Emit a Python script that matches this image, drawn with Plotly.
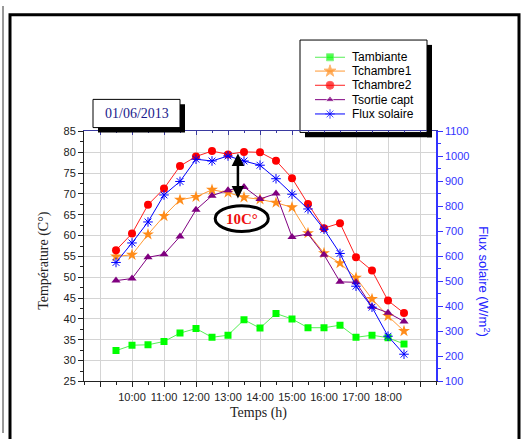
import plotly.graph_objects as go

# Hours of measurement (decimal hours, 9:30 .. 18:30)
hours = [9.5, 10.0, 10.5, 11.0, 11.5, 12.0, 12.5, 13.0, 13.5, 14.0,
         14.5, 15.0, 15.5, 16.0, 16.5, 17.0, 17.5, 18.0, 18.5]

t_ambiante = [32.4, 33.7, 33.8, 34.6, 36.6, 37.7, 35.6, 36.1, 39.8, 37.8,
              41.3, 40.0, 37.9, 37.9, 38.5, 35.6, 36.1, 35.5, 34.0]
t_chambre1 = [55.0, 55.4, 60.3, 64.7, 68.6, 69.3, 71.0, 70.3, 69.2, 68.7,
              67.9, 66.8, 60.6, 55.8, 53.4, 49.9, 44.8, 40.7, 37.1]
t_chambre2 = [56.5, 60.5, 67.4, 71.3, 76.7, 79.0, 80.3, 79.5, 80.1, 80.0,
              78.0, 73.8, 67.6, 61.8, 63.0, 54.8, 51.6, 44.4, 41.4]
t_sortie = [49.2, 49.7, 54.8, 55.5, 59.8, 66.2, 69.6, 70.9, 71.7, 68.8,
            70.1, 59.7, 60.4, 55.4, 48.9, 48.8, 42.9, 41.5, 39.4]
flux = [576, 654, 738, 846, 900, 989, 982, 1002, 982, 965,
        911, 849, 790, 709, 612, 481, 397, 281, 209]

tick_hours = [9, 10, 11, 12, 13, 14, 15, 16, 17, 18, 19]
tick_labels = ["", "10:00", "11:00", "12:00", "13:00", "14:00",
               "15:00", "16:00", "17:00", "18:00", ""]

W, H = 523, 439
L, R, T, B = 84, 436, 129, 386  # plot area in pixels


def px(x):
    return x / W


def py(y):
    return (H - y) / H


SANS = "Liberation Sans, Arial, sans-serif"
SERIF = "Liberation Serif, Times New Roman, serif"

# series styles: name, values, axis, line colour, marker
series = [
    ("Tambiante", t_ambiante, "y", "#55ee55",
     dict(symbol="square", size=7, color="#00ff00")),
    ("Tchambre1", t_chambre1, "y", "#ff9933",
     dict(symbol="star", size=9, color="#ff8c1a")),
    ("Tchambre2", t_chambre2, "y", "#ff2020",
     dict(symbol="circle", size=8, color="#ff0000")),
    ("Tsortie capt", t_sortie, "y", "#800080",
     dict(symbol="triangle-up", size=8, color="#800080")),
    ("Flux solaire", flux, "y2", "#0000ff",
     dict(symbol="asterisk-open", size=8,
          line=dict(color="#0000ff", width=1))),
]

fig = go.Figure()

for name, vals, yax, lcol, mk in series:
    fig.add_trace(go.Scatter(
        x=hours, y=vals, name=name, mode="lines+markers", yaxis=yax,
        line=dict(color=lcol, width=1), marker=mk, showlegend=False))

# invisible trace that carries the top axis
fig.add_trace(go.Scatter(x=[hours[0]], y=[t_ambiante[0]], xaxis="x2",
                         mode="markers", marker=dict(opacity=0),
                         showlegend=False, hoverinfo="skip"))

# key samples, drawn in a small pixel-scaled subplot inside the key box
key_rows = [52.7, 66.9, 81.5, 96.3, 111.0]
key_x = [315, 330, 345]
annotations = []
for (name, vals, yax, lcol, mk), row in zip(series, key_rows):
    mk_key = dict(mk)
    mk_key["size"] = [0, mk["size"], 0]
    fig.add_trace(go.Scatter(
        x=key_x, y=[row] * 3, xaxis="x3", yaxis="y3", mode="lines+markers",
        line=dict(color=lcol, width=1), marker=mk_key,
        showlegend=False, hoverinfo="skip"))
    annotations.append(dict(
        text=name, xref="x3", yref="y3", x=350, y=row, showarrow=False,
        xanchor="left", yanchor="middle",
        font=dict(family=SANS, size=12, color="black")))

shapes = []
# outer frame
shapes.append(dict(type="rect", xref="paper", yref="paper",
                   x0=px(10), x1=px(519), y0=py(460), y1=py(9),
                   line=dict(color="black", width=3), layer="above"))
shapes.append(dict(type="line", xref="paper", yref="paper",
                   x0=px(3), x1=px(3), y0=py(0), y1=py(439),
                   line=dict(color="#333333", width=1), layer="above"))
# date box with drop shadow
shapes.append(dict(type="rect", xref="paper", yref="paper",
                   x0=px(98), x1=px(185), y0=py(130), y1=py(101),
                   fillcolor="black", line=dict(width=0), layer="above"))
shapes.append(dict(type="rect", xref="paper", yref="paper",
                   x0=px(93), x1=px(180), y0=py(125), y1=py(96),
                   fillcolor="white", line=dict(color="black", width=1),
                   layer="above"))
# key box (under the key samples) and its drop shadow strips
shapes.append(dict(type="rect", xref="paper", yref="paper",
                   x0=px(300), x1=px(427), y0=py(130), y1=py(35),
                   fillcolor="white", line=dict(color="black", width=1),
                   layer="below"))
shapes.append(dict(type="rect", xref="paper", yref="paper",
                   x0=px(427), x1=px(432), y0=py(135), y1=py(40),
                   fillcolor="black", line=dict(width=0), layer="above"))
shapes.append(dict(type="rect", xref="paper", yref="paper",
                   x0=px(305), x1=px(432), y0=py(135), y1=py(130),
                   fillcolor="black", line=dict(width=0), layer="above"))
# ellipse around the temperature gap label
shapes.append(dict(type="circle", xref="x", yref="y",
                   x0=12.6, x1=14.26, y0=61.0, y1=67.2,
                   fillcolor="white", line=dict(color="black", width=3),
                   layer="above"))

annotations += [
    dict(text="01/06/2013", xref="paper", yref="paper", x=px(136.5), y=py(110.5),
         showarrow=False, font=dict(family=SERIF, size=14, color="#1a1a8c"),
         xanchor="center", yanchor="middle"),
    dict(text="<b>10C°</b>", xref="x", yref="y", x=13.43, y=64.1,
         showarrow=False, font=dict(family=SERIF, size=15, color="#ee1111"),
         xanchor="center", yanchor="middle"),
    dict(text="", xref="x", yref="y", x=13.31, y=68.9,
         axref="x", ayref="y", ax=13.31, ay=80.1,
         showarrow=True, arrowhead=2, startarrowhead=2, arrowside="end+start",
         arrowsize=1, startarrowsize=1, arrowwidth=2.5, arrowcolor="black"),
    dict(text="Température (C°)", xref="paper", yref="paper",
         x=px(44), y=py(262), textangle=-90, showarrow=False,
         font=dict(family=SERIF, size=14, color="#222222"),
         xanchor="center", yanchor="middle"),
    dict(text="Flux solaire (W/m<sup>2</sup>)", xref="paper", yref="paper",
         x=px(484), y=py(283), textangle=90, showarrow=False,
         font=dict(family=SANS, size=13, color="#2222ff"),
         xanchor="center", yanchor="middle"),
    dict(text="Temps (h)", xref="paper", yref="paper",
         x=px(258), y=py(418), showarrow=False,
         font=dict(family=SERIF, size=14, color="#222222"),
         xanchor="center", yanchor="middle"),
]

x_dom = [px(L), px(R)]
y_dom = [py(B), py(T)]

fig.update_layout(
    width=W, height=H,
    margin=dict(l=0, r=0, t=0, b=0, pad=0),
    paper_bgcolor="white", plot_bgcolor="rgba(0,0,0,0)",
    font=dict(family=SANS, size=11, color="#222222"),
    showlegend=False,
    xaxis=dict(domain=x_dom, range=[8.5, 19.5], tickvals=tick_hours,
               ticktext=tick_labels,
               showgrid=True, gridcolor="#d4d4d4", gridwidth=1,
               showline=True, linecolor="#222222", linewidth=1,
               ticks="outside", ticklen=5, tickcolor="#222222",
               minor=dict(dtick=0.5, tick0=8.5, ticks="outside", ticklen=3,
                          tickcolor="#222222", showgrid=False),
               zeroline=False, tickfont=dict(size=11)),
    xaxis2=dict(domain=x_dom, range=[8.5, 19.5], overlaying="x", side="top",
                tickvals=tick_hours, ticktext=[""] * len(tick_hours),
                showgrid=False, showline=True, linecolor="#3a3aa0",
                linewidth=1, ticks="inside", ticklen=4, tickcolor="#3a3aa0",
                minor=dict(dtick=0.5, tick0=8.5, ticks="inside", ticklen=2,
                           tickcolor="#3a3aa0"),
                zeroline=False),
    yaxis=dict(domain=y_dom, range=[25, 85], dtick=5, tick0=25,
               showgrid=True, gridcolor="#d4d4d4", gridwidth=1,
               showline=True, linecolor="#222222", linewidth=1,
               ticks="outside", ticklen=5, tickcolor="#222222",
               minor=dict(dtick=2.5, tick0=25, ticks="outside", ticklen=3,
                          tickcolor="#222222", showgrid=False),
               zeroline=False, tickfont=dict(size=11)),
    yaxis2=dict(domain=y_dom, range=[100, 1100], dtick=100, tick0=100,
                overlaying="y", side="right", anchor="x",
                showgrid=False, showline=True, linecolor="#3333ff",
                linewidth=1.5, ticks="outside", ticklen=5,
                tickcolor="#3333ff",
                minor=dict(dtick=50, tick0=100, ticks="outside", ticklen=3,
                           tickcolor="#3333ff"),
                zeroline=False, tickfont=dict(size=11, color="#3333ff")),
    xaxis3=dict(domain=[px(300), px(427)], range=[300, 427], visible=False,
                anchor="y3", fixedrange=True),
    yaxis3=dict(domain=[py(130), py(35)], range=[130, 35], visible=False,
                anchor="x3", fixedrange=True),
    shapes=shapes,
    annotations=annotations,
)

fig.write_html("out.html")
